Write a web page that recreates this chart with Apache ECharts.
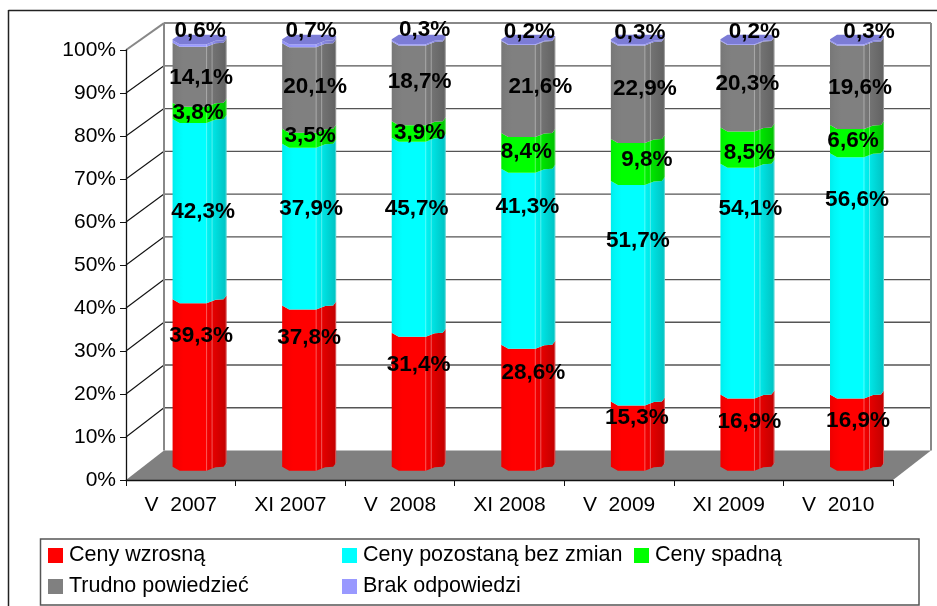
<!DOCTYPE html>
<html><head><meta charset="utf-8">
<style>html,body{margin:0;padding:0;background:#fff}#c{width:937px;height:606px}</style>
<script src="https://cdn.jsdelivr.net/npm/echarts@6/dist/echarts.min.js"></script>
</head><body><div id="c"></div>
<script>
// ---- data ----
const categories = ['V  2007','XI 2007','V  2008','XI 2008','V  2009','XI 2009','V  2010'];
const cenyWzrosna   = [39.3,37.8,31.4,28.6,15.3,16.9,16.9];
const cenyBezZmian  = [42.3,37.9,45.7,41.3,51.7,54.1,56.6];
const cenySpadna    = [3.8,3.5,3.9,8.4,9.8,8.5,6.6];
const trudno        = [14.1,20.1,18.7,21.6,22.9,20.3,19.6];
const brak          = [0.6,0.7,0.3,0.2,0.3,0.2,0.3];
const seriesNames = ['Ceny wzrosną','Ceny pozostaną bez zmian','Ceny spadną','Trudno powiedzieć','Brak odpowiedzi'];
const seriesValues = [cenyWzrosna,cenyBezZmian,cenySpadna,trudno,brak];
const yTicks = [0,10,20,30,40,50,60,70,80,90,100];

// ---- layout / style (separate from the data) ----
const colors = [[255,0,0],[0,255,255],[0,255,0],[128,128,128],[153,153,255]];
const legendSpots = [[48,543.5],[342,543.5],[634,543.5],[48,574.5],[342,574.5]];
const WALL = {dx:38, dy:-29.5, k:0.994};
const BAR  = {dx:18.8, dy:-9.3, k:0.992};
// front edge of a bar, seen from slightly above: [x from centre, lift in px]
const profile = [[-27,-4],[-20,0],[7,0],[16,-3.5],[24,-4],[27,-8]];
const capBack = [[27,-8],[24,-9.5],[-20,-9.5],[-27,-5]];
// nudges of the value labels from the middle of their segment [dx,dy]
const labelNudge = [
 [[1.5,-52],[0,-53],[0,-40],[5,-38],[-1,-21],[2,-14],[1,-15]],
 [[3.5,-2],[2,-21],[-2,-31],[-1,-55],[0,-55],[3,-75],[0,-79]],
 [[-1.5,-3],[1,-5.5],[1,-1.6],[-2,-4],[9,-5],[2,2],[-4,-3]],
 [[1.5,0],[6,-4],[1,-4.5],[12,-5],[7,-6],[0,-5],[3,0]],
 [[0.5,-15.6],[2,-16],[6,-16],[1,-14],[2,-13],[7,-14],[12,-14]]
];

const rgb = (c,f)=>`rgb(${Math.round(c[0]*f)},${Math.round(c[1]*f)},${Math.round(c[2]*f)})`;
const shadeStops = [[0,.93],[.08,.97],[.2,1],[.62,1],[.64,.95],[.74,.9],[.85,.84],[1,.76]];
const shade = c => new echarts.graphic.LinearGradient(0,0,1,0,
  shadeStops.map(s=>({offset:s[0],color:rgb(c,s[1])})));

const totals = categories.map((_,i)=>seriesValues.reduce((s,a)=>s+a[i],0));
const rows = seriesValues.map((vals,s)=>vals.map((v,i)=>{
  let low=0; for(let k=0;k<s;k++) low+=seriesValues[k][i];
  return [i, low*100/totals[i], (low+v)*100/totals[i], v];
}));

function barPoint(api,cat,v){
  const p=api.coord([cat,v]), y0=api.coord([cat,0])[1];
  return [p[0]+BAR.dx, y0+BAR.dy-(y0-p[1])*BAR.k];
}
function renderSegment(s){
  return function(params,api){
    const cat=api.value(0), lo=barPoint(api,cat,api.value(1)), hi=barPoint(api,cat,api.value(2));
    const pts=[];
    profile.forEach(q=>pts.push([lo[0]+q[0],lo[1]+q[1]]));
    profile.slice().reverse().forEach(q=>pts.push([hi[0]+q[0],hi[1]+q[1]]));
    const kids=[{type:'polygon',shape:{points:pts},style:{fill:shade(colors[s])}}];
    [[7,0],[12.5,-2],[26.5,-7]].forEach(q=>kids.push({type:'line',
      shape:{x1:lo[0]+q[0],y1:lo[1]+q[1],x2:hi[0]+q[0],y2:hi[1]+q[1]},
      style:{stroke:'rgba(255,255,255,0.35)',lineWidth:1}}));
    if(s===seriesValues.length-1){
      const cap=profile.concat(capBack).map(q=>[hi[0]+q[0],hi[1]+q[1]]);
      kids.push({type:'polygon',shape:{points:cap},style:{fill:'#7c7cd6'}});
    }
    return {type:'group',children:kids};
  };
}
function renderScene(params,api){
  const g=params.coordSys, x0=g.x, x1=g.x+g.width, y0=g.y+g.height;
  const wy=v=>{const y=api.coord([0,v])[1]; return y0+WALL.dy-(y0-y)*WALL.k;};
  const top=100, kids=[];
  kids.push({type:'polygon',shape:{points:[[x0,y0],[x0+WALL.dx,wy(0)],[x1+WALL.dx,wy(0)],[x1,y0]]},style:{fill:'#808080'}});
  yTicks.forEach(v=>{
    const fy=api.coord([0,v])[1], wyv=wy(v), last=v===top;
    if(v>0){
      kids.push({type:'line',shape:{x1:x0+WALL.dx,y1:wyv,x2:x1+WALL.dx,y2:wyv},style:{stroke:last?'#888':'#555',lineWidth:last?2:1.3}});
      kids.push({type:'line',shape:{x1:x0,y1:fy,x2:x0+WALL.dx,y2:wyv},style:{stroke:last?'#888':'#111',lineWidth:last?2:1.1}});
    }
  });
  kids.push({type:'line',shape:{x1:x0+WALL.dx,y1:wy(0),x2:x0+WALL.dx,y2:wy(top)},style:{stroke:'#888',lineWidth:2}});
  kids.push({type:'line',shape:{x1:x1+WALL.dx,y1:wy(0),x2:x1+WALL.dx,y2:wy(top)},style:{stroke:'#888',lineWidth:2}});
  return {type:'group',children:kids};
}
const labelRows=[];
rows.forEach((r,s)=>r.forEach((d,i)=>labelRows.push([d[0],(d[1]+d[2])/2,d[3],s])));
function renderLabel(params,api){
  const cat=api.value(0), s=api.value(3), p=barPoint(api,cat,api.value(1)), n=labelNudge[s][cat];
  return {type:'text',x:p[0]+n[0],y:p[1]+n[1]+1,style:{
    text:api.value(2).toFixed(1).replace('.',',')+'%',
    font:'bold 22.5px "Liberation Sans", Arial, sans-serif',fill:'#000',align:'center',verticalAlign:'middle'}};
}

const series=[{type:'custom',name:'scene',z:1,silent:true,renderItem:renderScene,data:[[0,0]],clip:false,encode:{x:0,y:1}}];
rows.forEach((r,s)=>series.push({type:'custom',name:seriesNames[s],z:2+s*0.01,silent:true,clip:false,
  itemStyle:{color:rgb(colors[s],1)},renderItem:renderSegment(s),data:r,encode:{x:0,y:[1,2]}}));
series.push({type:'custom',name:'labels',z:5,silent:true,clip:false,renderItem:renderLabel,data:labelRows,encode:{x:0,y:1}});

const chart=echarts.init(document.getElementById('c'),null,{renderer:'canvas'});
const font='"Liberation Sans", Arial, sans-serif';
chart.setOption({
  animation:false,backgroundColor:'#fff',
  grid:{left:126,right:44,top:50,bottom:126,containLabel:false},
  xAxis:{type:'category',data:categories,boundaryGap:true,z:3,
    axisLine:{lineStyle:{color:'#111',width:1.3}},
    axisTick:{show:true,alignWithLabel:false,length:6,lineStyle:{color:'#111'}},
    axisLabel:{color:'#000',fontSize:21,fontFamily:font,margin:15,interval:0}},
  yAxis:{type:'value',min:0,max:100,interval:10,z:3,
    axisLine:{show:true,lineStyle:{color:'#111',width:1.3}},
    axisTick:{show:true,length:6,lineStyle:{color:'#111'}},
    splitLine:{show:false},
    axisLabel:{color:'#000',fontSize:21,fontFamily:font,margin:10,formatter:'{value}%'}},
  legend:seriesNames.map((n,i)=>({data:[n],left:legendSpots[i][0],top:legendSpots[i][1],padding:0,
    orient:'horizontal',icon:'rect',itemWidth:15,itemHeight:15,itemGap:0,selectedMode:false,
    textStyle:{color:'#000',fontSize:21.5,fontFamily:font,lineHeight:24,padding:[0,0,0,1]}})),
  graphic:{elements:[
    {type:'line',silent:true,z:0,shape:{x1:8.5,y1:10.5,x2:937,y2:10.5},style:{stroke:'#222',lineWidth:1.5}},
    {type:'line',silent:true,z:0,shape:{x1:8.5,y1:10,x2:8.5,y2:606},style:{stroke:'#222',lineWidth:1.5}},
    {type:'rect',silent:true,z:0,shape:{x:40.5,y:539,width:878.5,height:66},style:{fill:'#fff',stroke:'#555',lineWidth:1.5}}
  ]},
  series
});
</script></body></html>
